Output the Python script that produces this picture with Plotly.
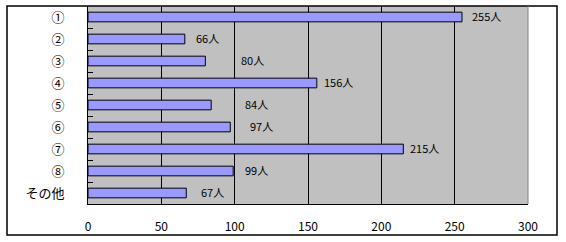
import plotly.graph_objects as go

categories = ["①", "②", "③", "④", "⑤", "⑥", "⑦", "⑧", "その他"]
values = [255, 66, 80, 156, 84, 97, 215, 99, 67]
labels = ["255人", "66人", "80人", "156人", "84人", "97人", "215人", "99人", "67人"]
label_shift = [8, 9, 34, 5, 32, 18, 5, 10, 13]
x_ticks = [0, 50, 100, 150, 200, 250, 300]

FONT = "Noto Sans CJK JP"

fig = go.Figure()
fig.add_trace(go.Bar(
    y=categories, x=values, orientation="h", width=0.44,
    marker=dict(color="#9999FF", line=dict(color="black", width=1)),
    hoverinfo="skip",
))

for c, v, t, s in zip(categories, values, labels, label_shift):
    fig.add_annotation(x=v, y=c, text=t, xref="x", yref="y", showarrow=False,
                       xanchor="left", yanchor="middle", xshift=s, yshift=1,
                       font=dict(family=FONT, size=11, color="black"))

fig.update_layout(
    width=566, height=242,
    margin=dict(l=88, r=38, t=6, b=38),
    paper_bgcolor="white", plot_bgcolor="#C0C0C0",
    showlegend=False, bargap=0.5,
    font=dict(family=FONT, size=12, color="black"),
    xaxis=dict(range=[0, 300], tickvals=x_ticks, showgrid=True, gridcolor="black",
               gridwidth=1, zeroline=False, showline=True, linecolor="black",
               linewidth=1, ticks="", ticklen=0, tickfont=dict(size=12),
               ticklabelstandoff=12, fixedrange=True),
    yaxis=dict(autorange="reversed", type="category", showgrid=False,
               showline=True, linecolor="black", linewidth=1,
               ticks="inside", tickson="boundaries", ticklen=5, tickcolor="black",
               ticklabelstandoff=20, tickfont=dict(size=13), fixedrange=True),
    shapes=[
        dict(type="rect", xref="paper", yref="paper", x0=-(81 / 440), x1=469 / 440,
             y0=-(31 / 198), y1=1.0, line=dict(color="black", width=1.5),
             fillcolor="rgba(0,0,0,0)", layer="above"),
        dict(type="line", xref="paper", yref="paper", x0=1, x1=1, y0=0, y1=1,
             line=dict(color="#808080", width=1), layer="above"),
    ],
)

fig.write_html("out.html")
